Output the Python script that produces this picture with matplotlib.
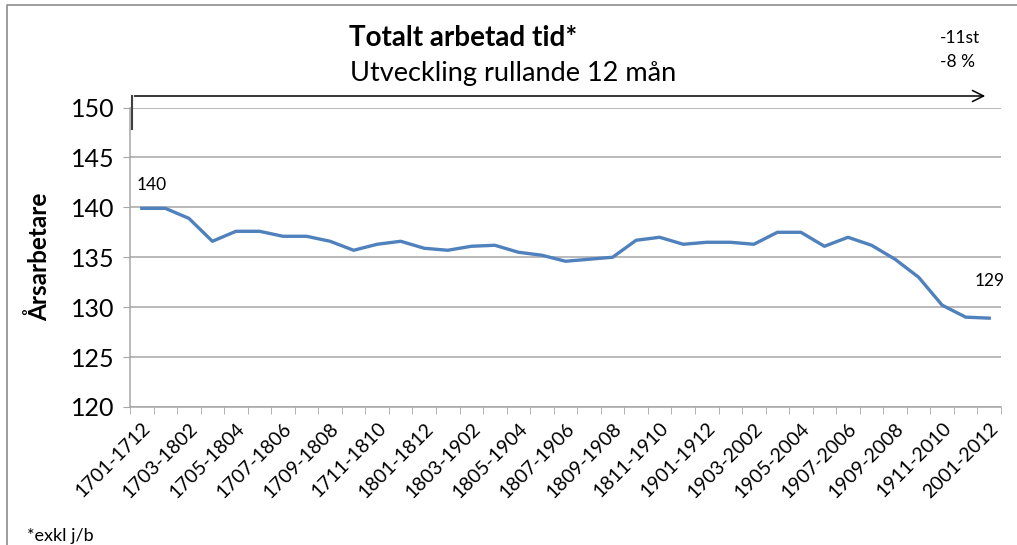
import matplotlib
matplotlib.use("Agg")
import matplotlib.pyplot as plt
from matplotlib.patches import FancyArrowPatch
from matplotlib.lines import Line2D

plt.rcParams['font.family'] = ['Lato', 'DejaVu Sans']

periods = [
    '1701-1712', '1702-1801', '1703-1802', '1704-1803', '1705-1804', '1706-1805',
    '1707-1806', '1708-1807', '1709-1808', '1710-1809', '1711-1810', '1712-1811',
    '1801-1812', '1802-1901', '1803-1902', '1804-1903', '1805-1904', '1806-1905',
    '1807-1906', '1808-1907', '1809-1908', '1810-1909', '1811-1910', '1812-1911',
    '1901-1912', '1902-2001', '1903-2002', '1904-2003', '1905-2004', '1906-2005',
    '1907-2006', '1908-2007', '1909-2008', '1910-2009', '1911-2010', '1912-2011',
    '2001-2012',
]
arsarbetare = [
    139.9, 139.9, 138.9, 136.6, 137.6, 137.6, 137.1, 137.1, 136.6, 135.7,
    136.3, 136.6, 135.9, 135.7, 136.1, 136.2, 135.5, 135.2, 134.6, 134.8,
    135.0, 136.7, 137.0, 136.3, 136.5, 136.5, 136.3, 137.5, 137.5, 136.1,
    137.0, 136.2, 134.8, 133.0, 130.2, 129.0, 128.9,
]
label_first = '140'
label_last = '129'

W, H = 1017, 545
fig = plt.figure(figsize=(W / 100, H / 100), dpi=100)
ax = fig.add_axes([130 / W, 1 - 407 / H, (1001 - 130) / W, (407 - 107.5) / H])

x = list(range(len(periods)))
ax.plot(x, arsarbetare, color='#4F81BD', lw=2.4, solid_joinstyle='round')

ax.set_xlim(-0.5, len(periods) - 0.5)
ax.set_ylim(120, 150)
ax.set_yticks(range(120, 151, 5))
ax.yaxis.grid(True, color='#A6A6A6', lw=1.1)
ax.set_axisbelow(True)

ax.set_xticks([i - 0.5 for i in range(len(periods) + 1)], minor=True)
ax.set_xticks(x[::2])
ax.set_xticklabels(periods[::2], rotation=45, ha='right', rotation_mode='anchor', fontsize=14)
ax.tick_params(axis='x', which='major', length=0, pad=9)
ax.tick_params(axis='x', which='minor', length=5, color='#A6A6A6', direction='out')
ax.tick_params(axis='y', length=5, color='#A6A6A6', labelsize=18, pad=6)

for s in ['top', 'right']:
    ax.spines[s].set_visible(False)
for s in ['left', 'bottom']:
    ax.spines[s].set_color('#A6A6A6')
    ax.spines[s].set_linewidth(1.1)

ax.set_ylabel('Årsarbetare', fontsize=17.5, fontweight='bold', labelpad=14)

ax.annotate(label_first, (0, arsarbetare[0]), xytext=(7, 11), textcoords='offset points',
            ha='center', va='bottom', fontsize=12.5)
ax.annotate(label_last, (len(periods) - 1, arsarbetare[-1]), xytext=(0, 21), textcoords='offset points',
            ha='center', va='bottom', fontsize=12.5)

# titles and notes
fig.text(463 / W, 1 - 38 / H, 'Totalt arbetad tid*', ha='center', va='center', fontsize=20, fontweight='bold')
fig.text(513 / W, 1 - 73 / H, 'Utveckling rullande 12 mån', ha='center', va='center', fontsize=19.5)
fig.text(960 / W, 1 - 38 / H, '-11st', ha='center', va='center', fontsize=12.5)
fig.text(957 / W, 1 - 62 / H, '-8 %', ha='center', va='center', fontsize=12.5)
fig.text(27 / W, 1 - 536 / H, '*exkl j/b', ha='left', va='center', fontsize=13)

# period arrow
fig.add_artist(Line2D([131.7 / W, 131.7 / W], [1 - 96 / H, 1 - 129 / H], color='#404040', lw=1.5,
                      transform=fig.transFigure))
fig.add_artist(FancyArrowPatch((131.7 / W, 1 - 96 / H), (988 / W, 1 - 96 / H), transform=fig.transFigure,
                               arrowstyle='->,head_length=8,head_width=4', color='black', lw=1.1))

# outer frame
fig.add_artist(Line2D([7 / W, 7 / W, 1.0], [0, 1 - 5 / H, 1 - 5 / H], color='#8C8C8C', lw=1.2,
                      transform=fig.transFigure))

fig.savefig('out.png', dpi=100)
